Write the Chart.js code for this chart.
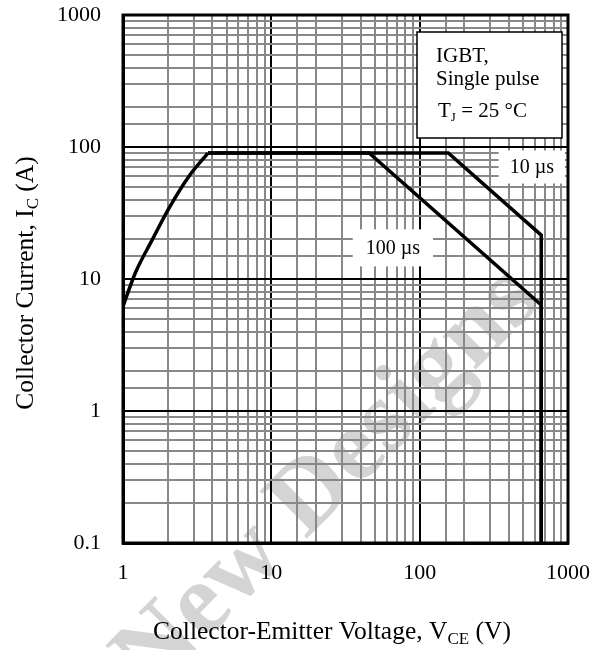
<!DOCTYPE html>
<html>
<head>
<meta charset="utf-8">
<script src="https://cdn.jsdelivr.net/npm/chart.js@4/dist/chart.umd.min.js"></script>
<style>
  html, body { margin: 0; padding: 0; background: #fff; }
  canvas { display: block; }
</style>
</head>
<body>
<canvas id="soa" width="603" height="650"></canvas>
<script>
// Safe operating area, IGBT single pulse, Tj = 25 °C
// Shared rising edge at low VCE (curved part)
const vceRise = [1, 1.21, 1.57, 2.03, 2.77, 3.74];
const icRise  = [6.2, 11.1, 19.7, 34, 59.6, 90];

// 100 µs pulse boundary
const vce100us = [3.74, 45.6, 660, 660];
const ic100us  = [90, 90, 6.35, 0.1];

// 10 µs pulse boundary
const vce10us = [3.74, 156, 660, 660];
const ic10us  = [90, 90, 21.5, 0.1];

// Labelled decades on each axis
const xTickLabels = [1, 10, 100, 1000];
const yTickLabels = [0.1, 1, 10, 100, 1000];

// Pulse-width captions and where they sit (VCE, IC)
const pulseLabels = ['10 µs', '100 µs'];
const pulseLabelAt = [[570, 70.5], [66, 17.2]];

const SERIF = '"Liberation Serif", "Times New Roman", serif';

const toPoints = (xs, ys) => xs.map((x, i) => ({ x, y: ys[i] }));
const isDecade = v => Math.abs(Math.log10(v) - Math.round(Math.log10(v))) < 1e-6;
const inList = (v, list) => list.some(t => Math.abs(Math.log10(v) - Math.log10(t)) < 1e-6);

// Draws a run of text pieces, some of them subscripts, starting at x
function drawRich(ctx, parts, x, y, size, subSize, subDrop) {
  let cx = x;
  for (const p of parts) {
    ctx.font = (p.sub ? subSize : size) + 'px ' + SERIF;
    ctx.fillText(p.t, cx, p.sub ? y + subDrop : y);
    cx += ctx.measureText(p.t).width;
  }
  return cx - x;
}
function richWidth(ctx, parts, size, subSize) {
  let w = 0;
  for (const p of parts) {
    ctx.font = (p.sub ? subSize : size) + 'px ' + SERIF;
    w += ctx.measureText(p.t).width;
  }
  return w;
}

const decorations = {
  id: 'decorations',
  beforeDraw(chart) {
    const ctx = chart.ctx;
    ctx.save();
    ctx.fillStyle = '#fff';
    ctx.fillRect(0, 0, chart.width, chart.height);
    // "New Designs" stamp across the plot
    ctx.translate(328, 480);
    ctx.rotate(-45 * Math.PI / 180);
    ctx.font = 'bold 102px ' + SERIF;
    ctx.fillStyle = 'rgb(212,212,212)';
    ctx.textAlign = 'center';
    ctx.textBaseline = 'middle';
    ctx.fillText('New Designs', 0, 0);
    ctx.restore();
  },
  afterDatasetsDraw(chart) {
    const ctx = chart.ctx;
    const area = chart.chartArea;
    const xs = chart.scales.x, ys = chart.scales.y;

    // Pulse-width captions on white patches
    ctx.save();
    ctx.font = '20px ' + SERIF;
    ctx.textAlign = 'center';
    ctx.textBaseline = 'middle';
    pulseLabels.forEach((txt, i) => {
      const px = xs.getPixelForValue(pulseLabelAt[i][0]);
      const py = ys.getPixelForValue(pulseLabelAt[i][1]);
      const w = ctx.measureText(txt).width + (i === 0 ? 22 : 26);
      const h = i === 0 ? 33 : 37;
      ctx.fillStyle = '#fff';
      ctx.fillRect(px - w / 2, py - h / 2, w, h);
      ctx.fillStyle = '#000';
      ctx.fillText(txt, px, py + 1);
    });
    ctx.restore();

    // Conditions box, top right
    ctx.save();
    const bx = area.right - 151, by = area.top + 17, bw = 145, bh = 106;
    ctx.fillStyle = '#fff';
    ctx.fillRect(bx, by, bw, bh);
    ctx.strokeStyle = '#000';
    ctx.lineWidth = 1.5;
    ctx.strokeRect(bx, by, bw, bh);
    ctx.fillStyle = '#000';
    ctx.textAlign = 'left';
    ctx.textBaseline = 'alphabetic';
    ctx.font = '21px ' + SERIF;
    ctx.fillText('IGBT,', bx + 19, by + 30);
    ctx.fillText('Single pulse', bx + 19, by + 53);
    drawRich(ctx, [{ t: 'T' }, { t: 'J', sub: true }, { t: ' = 25 °C' }], bx + 21, by + 85, 21, 13, 4);
    ctx.restore();

    // Heavy plot frame
    ctx.save();
    ctx.strokeStyle = '#000';
    ctx.lineWidth = 3;
    ctx.strokeRect(area.left, area.top, area.right - area.left, area.bottom - area.top);
    ctx.restore();
  },
  afterDraw(chart) {
    const ctx = chart.ctx;
    const area = chart.chartArea;
    ctx.save();
    ctx.fillStyle = '#000';
    ctx.textBaseline = 'alphabetic';
    ctx.textAlign = 'left';

    // X axis title
    const xParts = [{ t: 'Collector-Emitter Voltage, V' }, { t: 'CE', sub: true }, { t: ' (V)' }];
    const xw = richWidth(ctx, xParts, 25.5, 17);
    drawRich(ctx, xParts, 332 - xw / 2, 639, 25.5, 17, 5);

    // Y axis title, rotated
    const yParts = [{ t: 'Collector Current, I' }, { t: 'C', sub: true }, { t: ' (A)' }];
    const yw = richWidth(ctx, yParts, 25.5, 17);
    ctx.translate(33, (area.top + area.bottom) / 2 + 4);
    ctx.rotate(-Math.PI / 2);
    drawRich(ctx, yParts, -yw / 2, 0, 25.5, 17, 5);
    ctx.restore();
  }
};

const lineStyle = {
  borderColor: '#000',
  borderWidth: 3.5,
  pointRadius: 0,
  pointHoverRadius: 0,
  fill: false,
  borderJoinStyle: 'miter',
  borderCapStyle: 'butt'
};

new Chart(document.getElementById('soa'), {
  type: 'line',
  data: {
    datasets: [
      Object.assign({ label: 'rise', data: toPoints(vceRise, icRise), cubicInterpolationMode: 'monotone' }, lineStyle),
      Object.assign({ label: '100 µs', data: toPoints(vce100us, ic100us), tension: 0 }, lineStyle),
      Object.assign({ label: '10 µs', data: toPoints(vce10us, ic10us), tension: 0 }, lineStyle)
    ]
  },
  options: {
    responsive: false,
    animation: false,
    devicePixelRatio: 1,
    layout: { padding: { left: 0, top: 15, right: 35, bottom: 0 } },
    plugins: { legend: { display: false }, tooltip: { enabled: false } },
    events: [],
    scales: {
      x: {
        type: 'logarithmic',
        min: 1,
        max: 1000,
        afterFit(scale) {
          scale.height = 107;
          scale.paddingLeft = 0; scale.paddingRight = 0;
          scale.paddingTop = 0; scale.paddingBottom = 0;
        },
        border: { display: true, color: '#000', width: 3 },
        grid: {
          drawTicks: false,
          color: c => (c.tick && isDecade(c.tick.value)) ? '#000' : '#888',
          lineWidth: 2
        },
        ticks: {
          autoSkip: false,
          maxRotation: 0,
          minRotation: 0,
          padding: 17,
          color: '#000',
          font: { family: SERIF, size: 22 },
          callback: v => inList(v, xTickLabels) ? String(v) : ''
        }
      },
      y: {
        type: 'logarithmic',
        min: 0.1,
        max: 1000,
        afterFit(scale) {
          scale.width = 123;
          scale.paddingLeft = 0; scale.paddingRight = 0;
          scale.paddingTop = 0; scale.paddingBottom = 0;
        },
        border: { display: true, color: '#000', width: 3 },
        grid: {
          drawTicks: false,
          color: c => (c.tick && isDecade(c.tick.value)) ? '#000' : '#888',
          lineWidth: 2
        },
        ticks: {
          autoSkip: false,
          padding: 22,
          color: '#000',
          font: { family: SERIF, size: 22 },
          callback: v => {
            const hit = yTickLabels.find(t => Math.abs(Math.log10(v) - Math.log10(t)) < 1e-6);
            return hit === undefined ? '' : String(hit);
          }
        }
      }
    }
  },
  plugins: [decorations]
});
</script>
</body>
</html>
